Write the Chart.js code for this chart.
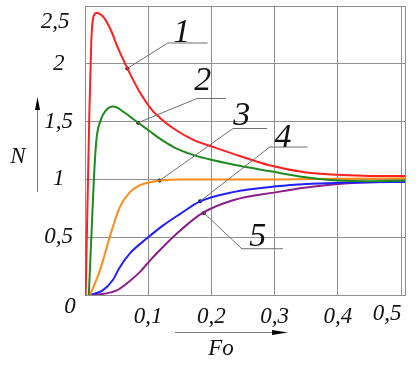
<!DOCTYPE html>
<html>
<head>
<meta charset="utf-8">
<script src="https://cdn.jsdelivr.net/npm/chart.js@4/dist/chart.umd.min.js"></script>
<style>
  html, body { margin: 0; padding: 0; background: #fff; }
  #wrap { width: 417px; height: 366px; }
</style>
</head>
<body>
<div id="wrap"><canvas id="myChart" width="417" height="366"></canvas></div>
<script>
// Curve 1 (red)
const fo1 = [0.001, 0.004, 0.007, 0.010, 0.013, 0.018, 0.024, 0.030, 0.041, 0.051, 0.067, 0.085, 0.106, 0.119, 0.140, 0.172, 0.203, 0.246, 0.293, 0.35, 0.40, 0.45, 0.506];
const n1  = [0, 0.8, 1.6, 2.2, 2.40, 2.44, 2.43, 2.40, 2.29, 2.15, 1.96, 1.77, 1.60, 1.53, 1.44, 1.34, 1.28, 1.20, 1.12, 1.06, 1.04, 1.03, 1.03];
// Curve 2 (green)
const fo2 = [0.006, 0.010, 0.014, 0.018, 0.024, 0.032, 0.045, 0.062, 0.084, 0.104, 0.119, 0.140, 0.172, 0.203, 0.246, 0.293, 0.346, 0.40, 0.45, 0.506];
const n2  = [0, 0.5, 1.0, 1.34, 1.5, 1.59, 1.63, 1.58, 1.49, 1.41, 1.35, 1.28, 1.21, 1.165, 1.115, 1.07, 1.02, 0.99, 0.985, 0.99];
// Curve 3 (orange)
const fo3 = [0.008, 0.024, 0.039, 0.055, 0.071, 0.087, 0.103, 0.118, 0.15, 0.2, 0.3, 0.4, 0.506];
const n3  = [0, 0.22, 0.5, 0.76, 0.89, 0.95, 0.975, 0.99, 1.0, 1.0, 1.0, 1.005, 1.01];
// Curve 4 (blue)
const fo4 = [0.008, 0.028, 0.044, 0.055, 0.071, 0.098, 0.123, 0.15, 0.182, 0.234, 0.303, 0.35, 0.40, 0.45, 0.506];
const n4  = [0, 0.04, 0.13, 0.24, 0.36, 0.49, 0.60, 0.70, 0.81, 0.89, 0.94, 0.96, 0.97, 0.975, 0.98];
// Curve 5 (purple)
const fo5 = [0.012, 0.03, 0.05, 0.066, 0.087, 0.103, 0.124, 0.151, 0.186, 0.234, 0.303, 0.35, 0.40, 0.45, 0.506];
const n5  = [0, 0.01, 0.04, 0.10, 0.20, 0.30, 0.42, 0.56, 0.71, 0.82, 0.89, 0.93, 0.96, 0.975, 0.98];

// Curve labels and their leader lines (dot on curve, elbow, end of shelf)
const curveNames = ['1', '2', '3', '4', '5'];
const leaderFo = [[0.067, 0.131, 0.194], [0.084, 0.177, 0.223], [0.118, 0.234, 0.288], [0.182, 0.292, 0.352], [0.188, 0.248, 0.313]];
const leaderN  = [[1.96, 2.18, 2.18], [1.49, 1.70, 1.70], [0.99, 1.44, 1.44], [0.81, 1.28, 1.28], [0.71, 0.40, 0.40]];
const nameFo = [0.153, 0.186, 0.248, 0.313, 0.273];
const nameN  = [2.27, 1.85, 1.55, 1.36, 0.50];

const xTicks = [0, 0.1, 0.2, 0.3, 0.4, 0.5];
const yTicks = [0, 0.5, 1, 1.5, 2, 2.5];
const xMax = 0.506;

const curveColors = ['#ff1f1f', '#1f8a1f', '#ff8a1a', '#1f1fff', '#8a1f8a'];
const serif = '"Liberation Serif", "DejaVu Serif", serif';

function pts(xs, ys) {
    return xs.map((x, i) => ({ x: x, y: ys[i] }));
}
function comma(v) {
    return String(Number(v.toFixed(1))).replace('.', ',');
}

const curves = [[fo1, n1], [fo2, n2], [fo3, n3], [fo4, n4], [fo5, n5]];
const datasets = [];

// leader lines first so curves sit on top
leaderFo.forEach((xs, i) => {
    datasets.push({
        data: pts(xs, leaderN[i]),
        showLine: true,
        borderColor: '#6e6e6e',
        borderWidth: 1,
        pointRadius: 0,
        tension: 0
    });
});
curves.forEach((c, i) => {
    datasets.push({
        data: pts(c[0], c[1]),
        showLine: true,
        borderColor: curveColors[i],
        borderWidth: 2,
        pointRadius: 0,
        cubicInterpolationMode: 'monotone'
    });
});
// dots where the leaders touch the curves
datasets.push({
    data: leaderFo.map((xs, i) => ({ x: xs[0], y: leaderN[i][0] })),
    showLine: false,
    pointRadius: 2,
    pointBackgroundColor: '#000',
    pointBorderWidth: 0
});

const decorPlugin = {
    id: 'decor',
    afterDatasetsDraw(chart) {
        const ctx = chart.ctx;
        const xs = chart.scales.x, ys = chart.scales.y;
        ctx.save();
        ctx.fillStyle = '#111';
        ctx.textAlign = 'center';
        ctx.textBaseline = 'middle';
        ctx.font = 'italic 34px ' + serif;
        curveNames.forEach((t, i) => {
            ctx.fillText(t, xs.getPixelForValue(nameFo[i]), ys.getPixelForValue(nameN[i]));
        });
        ctx.restore();
    },
    afterDraw(chart) {
        const ctx = chart.ctx;
        const a = chart.chartArea;
        const xs = chart.scales.x;
        ctx.save();
        ctx.fillStyle = '#111';
        ctx.font = 'italic 23px ' + serif;
        ctx.textAlign = 'center';
        ctx.textBaseline = 'middle';
        // labels the axes place awkwardly: shared origin, top and right ends
        ctx.fillText('0', a.left - 15, a.bottom + 12);
        ctx.fillText(comma(yTicks[yTicks.length - 1]), 55, 22);
        ctx.fillText(comma(xTicks[xTicks.length - 1]), xs.getPixelForValue(0.5) - 14, a.bottom + 19);
        // axis titles and arrows
        ctx.fillText('N', 18, 157);
        ctx.fillText('Fo', 221, 349);
        ctx.strokeStyle = '#777';
        ctx.lineWidth = 1;
        ctx.beginPath();
        ctx.moveTo(37.5, 192);
        ctx.lineTo(37.5, 104);
        ctx.moveTo(175, 332.5);
        ctx.lineTo(280, 332.5);
        ctx.stroke();
        ctx.fillStyle = '#000';
        ctx.beginPath();
        ctx.moveTo(37.5, 97);
        ctx.lineTo(35, 110);
        ctx.lineTo(40, 110);
        ctx.closePath();
        ctx.fill();
        ctx.beginPath();
        ctx.moveTo(288, 332.5);
        ctx.lineTo(272, 330);
        ctx.lineTo(272, 335);
        ctx.closePath();
        ctx.fill();
        ctx.restore();
    }
};

const ctx = document.getElementById('myChart').getContext('2d');
new Chart(ctx, {
    type: 'scatter',
    data: { datasets: datasets },
    options: {
        responsive: false,
        animation: false,
        events: [],
        layout: { padding: { top: 6, right: 12, left: 0, bottom: 0 } },
        plugins: { legend: { display: false }, tooltip: { enabled: false } },
        scales: {
            x: {
                type: 'linear',
                min: 0,
                max: xMax,
                afterBuildTicks: (s) => { s.ticks = xTicks.concat([xMax]).map(v => ({ value: v })); },
                afterFit: (s) => { s.height = 71; s.paddingLeft = 0; s.paddingRight = 0; },
                grid: { color: '#8f8f8f', lineWidth: 1, drawTicks: false },
                border: { color: '#8f8f8f' },
                ticks: {
                    padding: 8,
                    maxRotation: 0,
                    autoSkip: false,
                    color: '#111',
                    font: { family: serif, size: 23, style: 'italic' },
                    callback: (v) => (v === 0 || v >= 0.5) ? '' : comma(v)
                }
            },
            y: {
                type: 'linear',
                min: 0,
                max: 2.5,
                afterBuildTicks: (s) => { s.ticks = yTicks.map(v => ({ value: v })); },
                afterFit: (s) => { s.width = 85; s.paddingTop = 0; s.paddingBottom = 0; },
                grid: { color: '#8f8f8f', lineWidth: 1, drawTicks: false },
                border: { color: '#8f8f8f' },
                ticks: {
                    padding: 12,
                    crossAlign: 'center',
                    autoSkip: false,
                    color: '#111',
                    font: { family: serif, size: 23, style: 'italic' },
                    callback: (v) => (v === 0 || v === 2.5) ? '' : comma(v)
                }
            }
        }
    },
    plugins: [decorPlugin]
});
</script>
</body>
</html>
